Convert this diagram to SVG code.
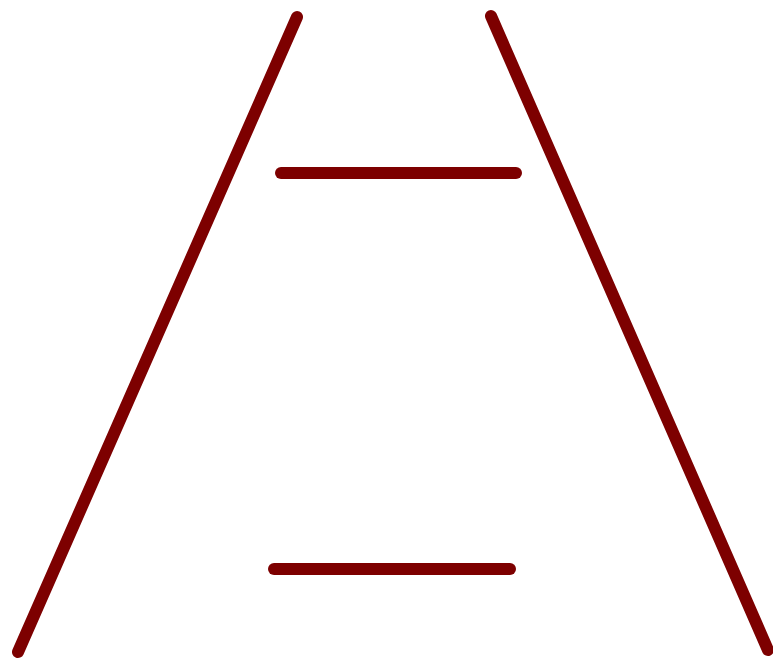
<svg xmlns="http://www.w3.org/2000/svg" width="773" height="660" viewBox="0 0 773 660">
<style>
.l{stroke:#7d0000;stroke-width:12;stroke-linecap:round;fill:none}
</style>
<rect width="773" height="660" fill="#ffffff"/>
<g id="connectors">
<line class="l" x1="297" y1="17" x2="18" y2="652"/>
<line class="l" x1="491" y1="16" x2="768" y2="650"/>
<line class="l" x1="281" y1="173" x2="516" y2="173"/>
<line class="l" x1="274" y1="569" x2="510" y2="569"/>
</g>
</svg>
